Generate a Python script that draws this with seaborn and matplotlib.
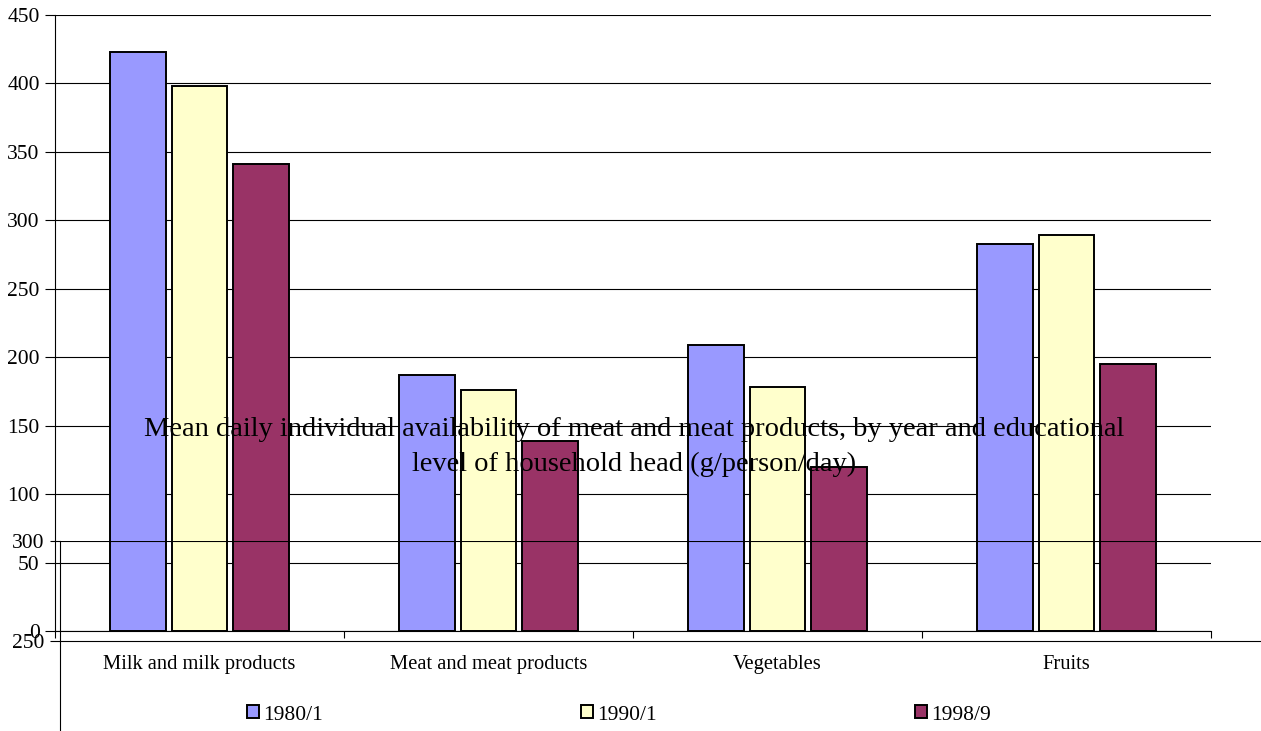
import matplotlib
matplotlib.use("Agg")
import matplotlib.pyplot as plt
import seaborn as sns
import pandas as pd
from matplotlib.ticker import FixedLocator

categories = ["Milk and milk products", "Meat and meat products", "Vegetables", "Fruits"]
periods = ["1980/1", "1990/1", "1998/9"]
values_1980 = [423, 187, 209, 283]
values_1990 = [398, 176, 178, 289]
values_1998 = [341, 139, 120, 195]
colors = ["#9999FF", "#FFFFCC", "#993366"]
title = ("Mean daily individual availability of meat and meat products, by year and educational\n"
         "level of household head (g/person/day)")

sns.set_style("white")
plt.rcParams["font.family"] = ["Liberation Serif", "DejaVu Serif"]
plt.rcParams["text.color"] = "black"
plt.rcParams["xtick.color"] = "black"
plt.rcParams["ytick.color"] = "black"
plt.rcParams["xtick.labelcolor"] = "black"
plt.rcParams["ytick.labelcolor"] = "black"

rows = []
for p, vals in zip(periods, [values_1980, values_1990, values_1998]):
    for c, v in zip(categories, vals):
        rows.append({"category": c, "period": p, "value": v})
df = pd.DataFrame(rows)

W, H = 1261, 731
fig = plt.figure(figsize=(W / 100, H / 100), dpi=100)
fig.patch.set_facecolor("white")

LC = "black"
# main axes (pixels: left 55, right 1211, top 15, bottom 631)
ax1 = fig.add_axes([55 / W, (H - 631) / H, (1211 - 55) / W, (631 - 15) / H])
sns.barplot(data=df, x="category", y="value", hue="period", palette=colors,
            hue_order=periods, order=categories, width=0.638, gap=0.09,
            saturation=1, edgecolor="black", linewidth=1.4, ax=ax1, legend=True)
ax1.set_xlim(-0.5, 3.5)
ax1.set_ylim(0, 450)
ax1.set_yticks(range(0, 451, 50))
ax1.yaxis.grid(True, color=LC, linewidth=0.8)
ax1.set_axisbelow(True)
ax1.set_xlabel("")
ax1.set_ylabel("")
for s in ["top", "right"]:
    ax1.spines[s].set_visible(False)
for s in ["left", "bottom"]:
    ax1.spines[s].set_color(LC)
    ax1.spines[s].set_linewidth(0.8)
ax1.tick_params(axis="y", length=7, width=0.8, color=LC, pad=4, labelsize=15.5, direction="out", left=True)
ax1.tick_params(axis="x", which="major", length=0, pad=17, labelsize=14.8)
ax1.xaxis.set_minor_locator(FixedLocator([-0.5, 0.5, 1.5, 2.5, 3.5]))
ax1.tick_params(axis="x", which="minor", length=5, width=0.8, color=LC, direction="out", bottom=True)

handles, labels = ax1.get_legend_handles_labels()
ax1.get_legend().remove()
leg = fig.legend(handles, labels, loc="center", bbox_to_anchor=(619 / W, 1 - 715 / H), ncol=3,
                 frameon=False, fontsize=15.5, handlelength=0.55, handleheight=0.55,
                 handletextpad=0.2, columnspacing=12.0)

# overlapping ghost axes (pixels: left 60, top 541, 2 px per unit)
ax2 = fig.add_axes([60 / W, (H - 741) / H, (1300 - 60) / W, 200 / H])
ax2.patch.set_alpha(0)
ax2.set_ylim(200, 300)
ax2.set_xlim(0, 1)
ax2.set_yticks([250, 300])
ax2.set_xticks([])
ax2.yaxis.grid(True, color=LC, linewidth=0.8)
for s in ["top", "right", "bottom"]:
    ax2.spines[s].set_visible(False)
ax2.spines["left"].set_color(LC)
ax2.spines["left"].set_linewidth(0.8)
ax2.tick_params(axis="y", length=7, width=0.8, color=LC, pad=4, labelsize=15.5, direction="out", left=True)

fig.text(634 / W, 1 - 447 / H, title, ha="center", va="center", multialignment="center",
         fontsize=20.5, linespacing=1.55, zorder=10, color="black")

fig.savefig("out.png", dpi=100)
